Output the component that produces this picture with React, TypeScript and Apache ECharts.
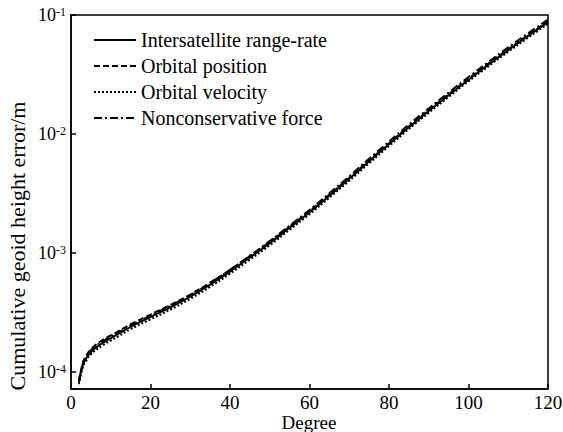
import React, { useEffect, useRef } from "react";
import * as echarts from "echarts";

const degrees = [2, 3, 4, 5, 6, 8, 10, 12, 15, 20, 25, 30, 35, 40, 45, 50, 55, 60, 65, 70, 75, 80, 85, 90, 95, 100, 105, 110, 115, 120];

const rangeRate = [8.2e-5, 1.15e-4, 1.33e-4, 1.47e-4, 1.58e-4, 1.76e-4, 1.93e-4, 2.1e-4, 2.4e-4, 2.9e-4, 3.5e-4, 4.3e-4, 5.42e-4, 6.98e-4, 9.16e-4, 1.21e-3, 1.63e-3, 2.2e-3, 3.03e-3, 4.2e-3, 5.89e-3, 8.2e-3, 1.14e-2, 1.56e-2, 2.12e-2, 2.86e-2, 3.83e-2, 5.07e-2, 6.67e-2, 8.7e-2];
const orbitalPosition = [8.4e-5, 1.2e-4, 1.4e-4, 1.55e-4, 1.67e-4, 1.86e-4, 2.03e-4, 2.21e-4, 2.52e-4, 3.04e-4, 3.66e-4, 4.48e-4, 5.63e-4, 7.22e-4, 9.42e-4, 1.24e-3, 1.67e-3, 2.25e-3, 3.09e-3, 4.28e-3, 6.0e-3, 8.35e-3, 1.16e-2, 1.59e-2, 2.16e-2, 2.91e-2, 3.9e-2, 5.16e-2, 6.79e-2, 8.86e-2];
const orbitalVelocity = [7.9e-5, 1.1e-4, 1.27e-4, 1.41e-4, 1.51e-4, 1.68e-4, 1.84e-4, 2.0e-4, 2.29e-4, 2.77e-4, 3.35e-4, 4.12e-4, 5.2e-4, 6.71e-4, 8.8e-4, 1.16e-3, 1.57e-3, 2.12e-3, 2.92e-3, 4.05e-3, 5.68e-3, 7.92e-3, 1.1e-2, 1.51e-2, 2.05e-2, 2.77e-2, 3.71e-2, 4.91e-2, 6.46e-2, 8.43e-2];
const nonconservative = [8.3e-5, 1.18e-4, 1.37e-4, 1.52e-4, 1.63e-4, 1.81e-4, 1.99e-4, 2.16e-4, 2.47e-4, 2.98e-4, 3.6e-4, 4.43e-4, 5.6e-4, 7.22e-4, 9.5e-4, 1.26e-3, 1.7e-3, 2.3e-3, 3.18e-3, 4.41e-3, 6.2e-3, 8.63e-3, 1.2e-2, 1.64e-2, 2.23e-2, 3.01e-2, 4.03e-2, 5.34e-2, 7.02e-2, 9.15e-2];

const seriesNames = ["Intersatellite range-rate", "Orbital position", "Orbital velocity", "Nonconservative force"];
const seriesValues = [rangeRate, orbitalPosition, orbitalVelocity, nonconservative];
const dashTypes: any[] = ["solid", [6, 3], [2, 2], [8, 3, 2, 3]];

const xAxisTitle = "Degree";
const yAxisTitle = "Cumulative geoid height error/m";

const FONT = "Liberation Serif";

export default function App() {
  const ref = useRef<HTMLDivElement>(null);
  useEffect(() => {
    if (!ref.current) return;
    const chart = echarts.init(ref.current, null, { renderer: "svg" });
    chart.setOption({
      animation: false,
      backgroundColor: "#fff",
      grid: {
        left: 71,
        right: 15,
        top: 15,
        bottom: 43,
        show: true,
        borderColor: "#000",
        borderWidth: 1.5,
        containLabel: false,
        outerBoundsMode: "none",
      },
      legend: {
        show: true,
        orient: "vertical",
        left: 93,
        top: 30,
        padding: 0,
        itemWidth: 42,
        itemHeight: 14,
        itemGap: 6,
        itemStyle: { opacity: 0 },
        textStyle: { fontFamily: FONT, fontSize: 20, color: "#000", lineHeight: 20 },
        data: seriesNames,
      },
      graphic: [
        {
          type: "text",
          x: 17,
          y: 246,
          rotation: Math.PI / 2,
          style: {
            text: yAxisTitle,
            fontFamily: FONT,
            fontSize: 22,
            fill: "#000",
            align: "center",
            verticalAlign: "middle",
          },
        },
        {
          type: "text",
          x: 309,
          y: 422.5,
          style: {
            text: xAxisTitle,
            fontFamily: FONT,
            fontSize: 19,
            lineHeight: 18,
            fill: "#000",
            align: "center",
            verticalAlign: "middle",
          },
        },
      ],
      xAxis: {
        type: "value",
        min: 0,
        max: 120,
        interval: 20,
        axisLine: { show: true, lineStyle: { color: "#000", width: 1.5 } },
        axisTick: { show: true, inside: true, length: 5, lineStyle: { color: "#000", width: 1.5 } },
        axisLabel: { fontFamily: FONT, fontSize: 19, lineHeight: 17, color: "#000", margin: 5 },
        splitLine: { show: false },
      },
      yAxis: {
        type: "log",
        logBase: 10,
        min: 7.2e-5,
        max: 0.1,
        axisLine: { show: true, lineStyle: { color: "#000", width: 1.5 } },
        axisTick: { show: true, inside: true, length: 5, lineStyle: { color: "#000", width: 1.5 } },
        axisLabel: {
          margin: 5,
          formatter: (v: number) => {
            const l = Math.log10(v);
            const e = Math.round(l);
            if (Math.abs(l - e) > 1e-6) return "";
            return `{b|10}{s|${e}}`;
          },
          rich: {
            b: { fontFamily: FONT, fontSize: 18, color: "#000", lineHeight: 18 },
            s: { fontFamily: FONT, fontSize: 12, color: "#000", verticalAlign: "top", lineHeight: 18 },
          },
        },
        splitLine: { show: false },
        minorTick: { show: false },
      },
      series: seriesNames.map((name, i) => ({
        name,
        type: "line",
        smooth: true,
        symbol: "none",
        data: degrees.map((d, j) => [d, seriesValues[i][j]]),
        lineStyle: { color: "#000", width: 2, type: dashTypes[i] },
        itemStyle: { color: "#000" },
      })),
    });
    return () => chart.dispose();
  }, []);
  return <div ref={ref} style={{ width: 563, height: 432, position: "absolute", left: 0, top: 0 }} />;
}
